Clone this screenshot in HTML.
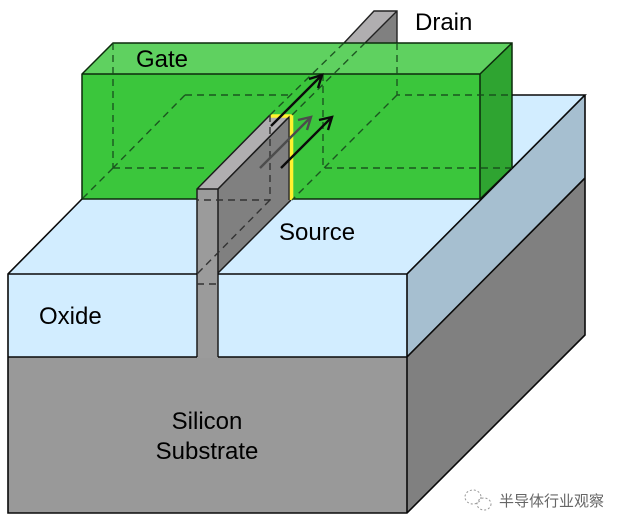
<!DOCTYPE html>
<html><head><meta charset="utf-8"><style>
html,body{margin:0;padding:0;background:#fff}
svg{display:block}
text{font-family:"Liberation Sans","Noto Sans CJK SC",sans-serif;fill:#000;font-size:24px}
</style></head><body>
<svg width="622" height="527" viewBox="0 0 622 527" xmlns="http://www.w3.org/2000/svg">
<!-- substrate -->
<rect x="8" y="357" width="399" height="156" fill="#999"/>
<polygon points="407,357 585,178 585,335 407,513" fill="#808080"/>
<!-- oxide -->
<polygon points="8,274 186,95 585,95 407,274" fill="#d2edff"/>
<polygon points="407,274 585,95 585,178 407,357" fill="#a6bfd0"/>
<rect x="8" y="274" width="189" height="83" fill="#d2edff"/>
<rect x="218" y="274" width="189" height="83" fill="#d2edff"/>
<!-- fin drain stub -->
<polygon points="374,11 397,11 365,43 344,43" fill="#b0aeb0"/>
<polygon points="397,11 397,43 365,43" fill="#808080"/>
<path d="M344,43 L374,11 H397 V43 M397,11 L365,43" fill="none" stroke="#222" stroke-width="1.4"/>
<!-- gate -->
<polygon points="82,74 113,43 512,43 480,74" fill="#5fd160"/>
<rect x="82" y="74" width="398" height="125" fill="#3bc63c"/>
<polygon points="480,74 512,43 512,168 480,199" fill="#2fa431"/>
<path d="M82,199 V74 L113,43 H512 V168 L480,199 H82 M82,74 H480 V199 M480,74 L512,43" fill="none" stroke="#0c2a0c" stroke-width="1.5"/>
<!-- fin -->
<polygon points="218,189 291,115 291,200 218,273" fill="#808080"/>
<polygon points="197,189 270,115 291,115 218,189" fill="#b0aeb0"/>
<rect x="197" y="189" width="21" height="169" fill="#9b9b9b"/>
<path d="M197,357 V189 L270,115 M218,357 V189 L290,116 M197,189 H218 M218,273 L291,200" fill="none" stroke="#1c1c1c" stroke-width="1.5"/>
<path d="M270,116 H293 M291.5,115 V200" fill="none" stroke="#fff22e" stroke-width="3.6"/>
<path d="M218,189 L289,117 V200" fill="none" stroke="#1c1c1c" stroke-width="1.2"/>
<!-- outline -->
<path d="M8,357 V274 L82,199 M8,274 H197 M218,274 H407 L585,95 H512 M8,357 H197 M218,357 H407 L585,178 M407,274 V513 M585,95 V335 L407,513 H8 V357" fill="none" stroke="#0a0a0a" stroke-width="1.6"/>
<!-- dashed -->
<g fill="none" stroke="#174a1c" stroke-width="1.4" stroke-dasharray="7 5" opacity=".9">
<path d="M113,43 V168 M113,168 L82,199 M113,168 H208 M185,95 L113,168 M185,95 H293"/>
<path d="M397,43 V95 H512 M397,95 L292,200 M323,74 V168 H512"/>
<path d="M270,115 L344,43 M292,115 L365,43"/>
</g>
<g fill="none" stroke="#333" stroke-width="1.4" stroke-dasharray="7 5">
<path d="M270,115 V200 H197 M270,200 L197,274 M197,284 H218"/>
</g>
<!-- arrows -->
<g fill="none" stroke-width="2.4">
<g stroke="#4c4c4c"><path d="M260,168 L310,118"/><path d="M298,120 L311,117 L307,130"/></g>
<g stroke="#0a0a0a"><path d="M271,126 L321,76"/><path d="M309,79 L322,75 L318,88"/></g>
<g stroke="#0a0a0a"><path d="M281,168 L331,118"/><path d="M319,120 L332,117 L328,130"/></g>
</g>
<!-- labels -->
<text x="415" y="30">Drain</text>
<text x="136" y="67">Gate</text>
<text x="279" y="240">Source</text>
<text x="39" y="324">Oxide</text>
<text x="207" y="429" text-anchor="middle">Silicon</text>
<text x="207" y="459" text-anchor="middle">Substrate</text>
<!-- watermark -->
<g fill="none" stroke="#999" stroke-width="1" stroke-dasharray="2 2">
<ellipse cx="473" cy="497" rx="8" ry="7"/>
<ellipse cx="484" cy="504" rx="7" ry="6"/>
</g>
<text x="499" y="506" style="font-size:15px;fill:#666">半导体行业观察</text>
</svg>
</body></html>
